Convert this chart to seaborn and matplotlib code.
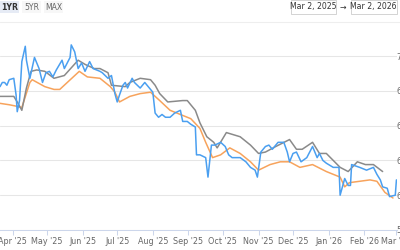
import matplotlib
matplotlib.use("Agg")
import matplotlib.pyplot as plt
import matplotlib.dates as mdates
from matplotlib.patches import Rectangle
from matplotlib.lines import Line2D
import pandas as pd
import seaborn as sns

# ---------------- data ----------------
blue_dates = ["2025-03-21","2025-03-23","2025-03-25","2025-03-27","2025-03-29","2025-04-02","2025-04-04","2025-04-05","2025-04-07","2025-04-09",
              "2025-04-12","2025-04-13","2025-04-16","2025-04-20","2025-04-24","2025-04-27","2025-04-30","2025-05-03","2025-05-06","2025-05-09",
              "2025-05-14","2025-05-16","2025-05-21","2025-05-22","2025-05-25","2025-05-28","2025-05-31","2025-06-03","2025-06-07","2025-06-10",
              "2025-06-16","2025-06-18","2025-06-23","2025-06-26","2025-06-29","2025-07-01","2025-07-03","2025-07-06","2025-07-08","2025-07-10",
              "2025-07-14","2025-07-16","2025-07-21","2025-07-25","2025-07-30","2025-08-01","2025-08-03","2025-08-06","2025-08-09","2025-08-12",
              "2025-08-16","2025-08-20","2025-08-25","2025-08-27","2025-08-31","2025-09-03","2025-09-07","2025-09-08","2025-09-11","2025-09-16",
              "2025-09-18","2025-09-21","2025-09-24","2025-09-29","2025-10-03","2025-10-06","2025-10-09","2025-10-16","2025-10-21","2025-10-25",
              "2025-10-29","2025-10-31","2025-11-03","2025-11-07","2025-11-10","2025-11-13","2025-11-18","2025-11-23","2025-11-26","2025-11-28",
              "2025-12-01","2025-12-04","2025-12-08","2025-12-13","2025-12-18","2025-12-22","2025-12-24","2025-12-27","2025-12-30","2026-01-05",
              "2026-01-10","2026-01-11","2026-01-15","2026-01-18","2026-01-20","2026-01-21","2026-01-28","2026-02-03","2026-02-09","2026-02-12",
              "2026-02-15","2026-02-17","2026-02-21","2026-02-23","2026-02-28","2026-03-01"]
blue_values = [6.78,6.81,6.81,6.79,6.83,6.84,6.72,6.60,6.68,6.96,
               7.07,6.97,6.84,6.99,6.91,6.81,6.88,6.89,6.85,6.90,
               6.97,6.91,6.99,7.08,7.03,6.91,6.95,6.89,6.96,6.91,
               6.89,6.88,6.84,6.86,6.73,6.67,6.72,6.79,6.81,6.77,
               6.84,6.81,6.77,6.81,6.76,6.74,6.59,6.56,6.58,6.56,
               6.56,6.59,6.61,6.53,6.53,6.51,6.49,6.29,6.29,6.27,
               6.13,6.36,6.36,6.38,6.35,6.29,6.27,6.27,6.24,6.20,
               6.18,6.13,6.31,6.35,6.36,6.33,6.38,6.38,6.31,6.24,
               6.30,6.31,6.24,6.27,6.35,6.27,6.30,6.25,6.23,6.20,
               6.20,6.00,6.12,6.07,6.07,6.22,6.20,6.18,6.20,6.15,
               6.11,6.06,6.05,5.99,6.00,6.11]

gray_dates = ["2025-03-21","2025-04-02","2025-04-05","2025-04-09","2025-04-13","2025-04-17","2025-04-22","2025-04-29","2025-05-07","2025-05-16",
              "2025-05-28","2025-06-03","2025-06-11","2025-06-16","2025-06-23","2025-06-26","2025-07-08","2025-07-12","2025-07-21","2025-07-30",
              "2025-08-03","2025-08-07","2025-08-14","2025-08-27","2025-08-31","2025-09-07","2025-09-11","2025-09-17","2025-09-23","2025-09-26",
              "2025-10-04","2025-10-12","2025-10-16","2025-10-25","2025-11-01","2025-11-07","2025-11-16","2025-11-28","2025-12-04","2025-12-09",
              "2025-12-18","2025-12-24","2025-12-30","2026-01-11","2026-01-18","2026-01-26","2026-02-02","2026-02-09","2026-02-17"]
gray_values = [6.71,6.71,6.67,6.61,6.77,6.89,6.90,6.89,6.84,6.86,
               6.97,6.94,6.91,6.91,6.88,6.79,6.78,6.81,6.84,6.83,
               6.79,6.73,6.67,6.68,6.68,6.61,6.52,6.42,6.38,6.34,
               6.45,6.43,6.42,6.36,6.30,6.31,6.35,6.40,6.33,6.33,
               6.38,6.30,6.30,6.20,6.17,6.24,6.22,6.22,6.17]

orange_dates = ["2025-03-21","2025-03-29","2025-04-04","2025-04-09","2025-04-16","2025-04-18","2025-04-29","2025-05-07","2025-05-12","2025-05-29",
                "2025-06-05","2025-06-16","2025-06-25","2025-06-29","2025-07-03","2025-07-12","2025-07-21","2025-07-30","2025-08-07","2025-08-16",
                "2025-08-25","2025-09-03","2025-09-11","2025-09-16","2025-09-22","2025-09-29","2025-10-07","2025-10-16","2025-10-25","2025-11-01",
                "2025-11-11","2025-11-20","2025-11-28","2025-12-07","2025-12-18","2025-12-30","2026-01-11","2026-01-15","2026-01-19","2026-01-28",
                "2026-02-06","2026-02-12","2026-02-19","2026-02-26"]
orange_values = [6.66,6.65,6.64,6.63,6.81,6.83,6.78,6.76,6.76,6.89,
                 6.85,6.84,6.78,6.74,6.67,6.71,6.73,6.74,6.68,6.61,
                 6.58,6.55,6.48,6.38,6.27,6.29,6.34,6.30,6.24,6.18,
                 6.22,6.24,6.24,6.20,6.22,6.17,6.13,6.06,6.09,6.10,
                 6.11,6.10,6.02,5.98]

y_ticks = [5.75, 6.0, 6.25, 6.5, 6.75, 7.0]
range_buttons = ["1YR", "5YR", "MAX"]
range_from = "Mar 2, 2025"
range_to = "Mar 2, 2026"

# ---------------- styling ----------------
sns.set_style("white")
plt.rcParams["font.family"] = ["DejaVu Sans"]

W, H = 400, 250
fig = plt.figure(figsize=(4, 2.5), dpi=100)
ax = fig.add_axes([0 / W, 1 - 230 / H, 397 / W, 200 / H])

df_b = pd.DataFrame({"date": pd.to_datetime(blue_dates), "v": blue_values})
df_g = pd.DataFrame({"date": pd.to_datetime(gray_dates), "v": gray_values})
df_o = pd.DataFrame({"date": pd.to_datetime(orange_dates), "v": orange_values})

sns.lineplot(data=df_o, x="date", y="v", ax=ax, color="#f7a35c", lw=1.1, zorder=3)
sns.lineplot(data=df_g, x="date", y="v", ax=ax, color="#8a8a8a", lw=1.1, zorder=3)
sns.lineplot(data=df_b, x="date", y="v", ax=ax, color="#4a9ff0", lw=1.1, zorder=4)

ax.set_xlim(pd.Timestamp("2025-03-21"), pd.Timestamp("2026-03-01 12:00"))
ax.set_ylim(5.75, 7.187)
ax.set_xlabel("")
ax.set_ylabel("")

ax.yaxis.tick_right()
ax.set_yticks(y_ticks)
ax.set_yticklabels([f"{t:.2f}" for t in y_ticks])
ax.tick_params(axis="y", length=0, pad=-0.6, labelsize=5.8, labelcolor="#666666")
ax.grid(axis="y", color="#e6e6e6", lw=0.75)
ax.grid(axis="x", visible=False)

ax.xaxis.set_major_locator(mdates.MonthLocator())
ax.xaxis.set_major_formatter(mdates.DateFormatter("%b '%y"))
ax.tick_params(axis="x", length=3.6, width=0.75, color="#ccd6eb", pad=1.5,
               labelsize=5.8, labelcolor="#666666", direction="out", bottom=True)
for s in ["top", "left", "right"]:
    ax.spines[s].set_visible(False)
ax.spines["bottom"].set_color("#ccd6eb")
ax.spines["bottom"].set_linewidth(0.75)
ax.set_facecolor("white")

# ---------------- header ----------------
def px_rect(x, y, w, h, fc, ec="none"):
    fig.add_artist(Rectangle((x / W, 1 - (y + h) / H), w / W, h / H, transform=fig.transFigure,
                             facecolor=fc, edgecolor=ec, lw=0.6))

btn_x = [0, 22, 44]
btn_w = [19, 19, 19]
for i, lab in enumerate(range_buttons):
    px_rect(btn_x[i], 1, btn_w[i], 12, "#e6ebf5" if i == 0 else "#f7f7f7")
    fig.text((btn_x[i] + btn_w[i] / 2) / W, 1 - 7 / H, lab, ha="center", va="center",
             fontsize=5.6, color="#333333" if i == 0 else "#666666",
             fontweight="bold" if i == 0 else "normal")

px_rect(290.5, 0.5, 45, 13, "white", "#cccccc")
px_rect(350.5, 0.5, 46, 13, "white", "#cccccc")
fig.text(313 / W, 1 - 7 / H, range_from, ha="center", va="center", fontsize=5.6, color="#333333")
fig.text(373.5 / W, 1 - 7 / H, range_to, ha="center", va="center", fontsize=5.6, color="#333333")
fig.text(343 / W, 1 - 7 / H, "→", ha="center", va="center", fontsize=5.6, color="#333333")

fig.add_artist(Line2D([0, 1], [1 - 21.5 / H, 1 - 21.5 / H], transform=fig.transFigure,
                      color="#eeeeee", lw=0.8))

fig.savefig("out.png", dpi=100)
